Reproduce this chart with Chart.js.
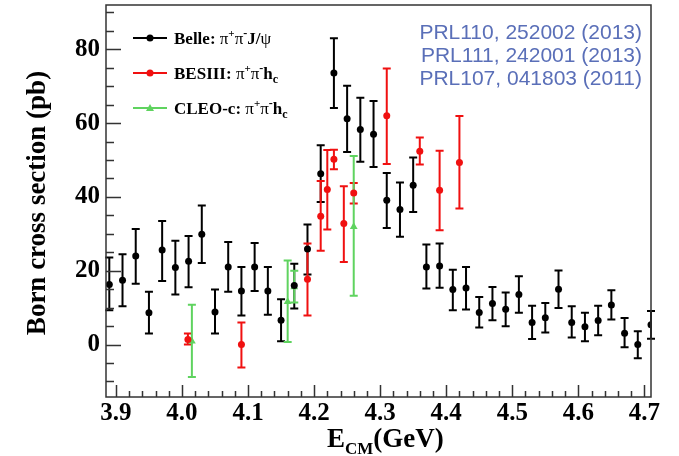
<!DOCTYPE html>
<html>
<head>
<meta charset="utf-8">
<script src="https://cdn.jsdelivr.net/npm/chart.js@4.4.0/dist/chart.umd.min.js"></script>
<style>
  html, body { margin: 0; padding: 0; background: #fff; }
</style>
</head>
<body>
<canvas id="xsChart" width="679" height="456"></canvas>
<script>
// Belle: pi+ pi- J/psi (energy in GeV, cross section and error bar ends in pb)
const belleE  = [3.89, 3.91, 3.93, 3.95, 3.97, 3.99, 4.01, 4.03, 4.05, 4.07, 4.09, 4.11, 4.13, 4.15, 4.17, 4.19, 4.21, 4.23, 4.25, 4.27, 4.29, 4.31, 4.33, 4.35, 4.37, 4.39, 4.41, 4.43, 4.45, 4.47, 4.49, 4.51, 4.53, 4.55, 4.57, 4.59, 4.61, 4.63, 4.65, 4.67, 4.69, 4.71];
const belleXs = [16.3, 17.4, 24.0, 8.6, 25.6, 20.9, 22.6, 29.9, 8.8, 21.0, 14.5, 21.0, 14.5, 6.6, 16.0, 25.9, 46.3, 73.6, 61.2, 58.3, 57.0, 39.1, 36.6, 43.2, 21.0, 21.3, 14.9, 15.3, 8.7, 11.1, 9.6, 13.6, 6.0, 7.3, 15.0, 6.0, 4.8, 6.5, 10.7, 3.1, 0.0, 5.4];
const belleHi = [23.6, 24.5, 31.3, 14.3, 33.5, 28.1, 29.4, 37.7, 14.9, 27.8, 21.0, 27.5, 21.0, 12.3, 21.9, 32.5, 54.0, 83.0, 70.1, 66.9, 66.0, 46.5, 43.9, 50.7, 27.1, 27.4, 20.3, 21.0, 12.9, 15.6, 14.1, 18.5, 10.5, 11.3, 20.1, 10.4, 8.6, 10.5, 14.7, 7.2, 3.6, 9.1];
const belleLo = [9.3, 10.4, 16.5, 3.0, 17.2, 13.6, 15.5, 22.1, 3.0, 14.3, 7.9, 14.5, 8.1, 0.9, 9.8, 19.0, 38.6, 64.1, 52.2, 49.5, 48.1, 31.6, 29.2, 35.9, 15.2, 15.4, 9.3, 9.5, 4.6, 6.6, 5.0, 8.6, 1.5, 3.3, 9.9, 1.9, 0.9, 2.5, 6.8, -0.7, -3.7, 1.6];

// BESIII: pi+ pi- h_c
const besE  = [4.009, 4.09, 4.19, 4.21, 4.22, 4.23, 4.245, 4.26, 4.31, 4.36, 4.39, 4.42];
const besXs = [1.4, 0.0, 17.7, 34.8, 42.0, 50.2, 32.8, 41.1, 62.0, 52.4, 41.8, 49.3];
const besHi = [3.0, 6.0, 27.4, 44.3, 52.7, 52.8, 42.9, 43.8, 74.8, 56.1, 52.5, 61.9];
const besLo = [0.0, -6.2, 7.9, 25.4, 31.2, 47.5, 22.4, 38.2, 48.9, 48.8, 31.0, 36.9];

// CLEO-c: pi+ pi- h_c
const cleoE  = [4.015, 4.16, 4.17, 4.26];
const cleoXs = [0.9, 11.6, 15.6, 31.9];
const cleoHi = [10.8, 22.8, 20.0, 51.1];
const cleoLo = [-8.8, 0.7, 11.4, 13.2];

const xTicks = [3.9, 4.0, 4.1, 4.2, 4.3, 4.4, 4.5, 4.6, 4.7];
const yTicks = [0, 20, 40, 60, 80];
const refLines = ['PRL110, 252002 (2013)', 'PRL111, 242001 (2013)', 'PRL107, 041803 (2011)'];

const BLACK = '#000000';
const RED = '#f01010';
const GREEN = '#5fd35f';
const SERIF = '"Liberation Serif", "Times New Roman", serif';

function points(es, ys) {
    return es.map((e, i) => ({ x: e, y: ys[i] }));
}

// vertical error bars with small caps, drawn under the markers
const errorBars = {
    id: 'errorBars',
    beforeDatasetsDraw(chart) {
        const ctx = chart.ctx;
        const xs = chart.scales.x, ys = chart.scales.y;
        chart.data.datasets.forEach(ds => {
            ctx.save();
            ctx.strokeStyle = ds.borderColor;
            ctx.lineWidth = 2;
            ds.data.forEach((p, i) => {
                const px = xs.getPixelForValue(p.x);
                const top = ys.getPixelForValue(ds.hi[i]);
                const bot = ys.getPixelForValue(ds.lo[i]);
                ctx.beginPath();
                ctx.moveTo(px, top); ctx.lineTo(px, bot);
                ctx.moveTo(px - 4, top); ctx.lineTo(px + 4, top);
                ctx.moveTo(px - 4, bot); ctx.lineTo(px + 4, bot);
                ctx.stroke();
            });
            ctx.restore();
        });
    }
};

// draw a run of text pieces: [text, font, dy]
function drawRich(ctx, x, y, parts) {
    parts.forEach(([t, font, dy]) => {
        ctx.font = font;
        ctx.fillText(t, x, y + dy);
        x += ctx.measureText(t).width;
    });
    return x;
}

// ROOT-like frame, inward ticks, titles, legend and references
const decorations = {
    id: 'decorations',
    afterDraw(chart) {
        const ctx = chart.ctx;
        const a = chart.chartArea;
        const xs = chart.scales.x, ys = chart.scales.y;
        ctx.save();

        // ticks
        ctx.strokeStyle = '#333';
        ctx.lineWidth = 1.5;
        ctx.beginPath();
        for (let k = 195; k <= 235; k++) {
            const v = k * 0.02;
            if (v < xs.min || v > xs.max) continue;
            const px = Math.round(xs.getPixelForValue(v)) + 0.5;
            const len = (k % 5 === 0) ? 12 : 6;
            ctx.moveTo(px, a.bottom); ctx.lineTo(px, a.bottom - len);
        }
        for (let v = -10; v <= 90; v += 5) {
            const py = Math.round(ys.getPixelForValue(v)) + 0.5;
            const len = (v % 20 === 0) ? 15 : 8;
            ctx.moveTo(a.left, py); ctx.lineTo(a.left + len, py);
        }
        ctx.stroke();

        // frame
        ctx.strokeStyle = '#333';
        ctx.lineWidth = 1.5;
        ctx.strokeRect(a.left, a.top, a.right - a.left, a.bottom - a.top);

        // y title
        ctx.fillStyle = '#000';
        ctx.save();
        ctx.translate(38, 203);
        ctx.rotate(-Math.PI / 2);
        ctx.textAlign = 'center';
        ctx.textBaseline = 'middle';
        ctx.font = 'bold 27px ' + SERIF;
        ctx.fillText('Born cross section (pb)', 0, 0);
        ctx.restore();

        // x title with subscript
        ctx.textAlign = 'left';
        ctx.textBaseline = 'alphabetic';
        drawRich(ctx, 327, 447, [
            ['E', 'bold 27px ' + SERIF, 0],
            ['CM', 'bold 17px ' + SERIF, 7],
            ['(GeV)', 'bold 27px ' + SERIF, 0]
        ]);

        // legend
        const rows = [
            { y: 38, color: BLACK, style: 'circle', label: 'Belle: ', tail: [['J/', 'bold 17px ' + SERIF, 0], ['ψ', '17px ' + SERIF, 0]] },
            { y: 73, color: RED, style: 'circle', label: 'BESIII: ', tail: [['h', 'bold 17px ' + SERIF, 0], ['c', 'bold 12px ' + SERIF, 4]] },
            { y: 108, color: GREEN, style: 'triangle', label: 'CLEO-c: ', tail: [['h', 'bold 17px ' + SERIF, 0], ['c', 'bold 12px ' + SERIF, 4]] }
        ];
        rows.forEach(r => {
            ctx.strokeStyle = r.color;
            ctx.fillStyle = r.color;
            ctx.lineWidth = 2;
            ctx.beginPath();
            ctx.moveTo(133, r.y); ctx.lineTo(167, r.y);
            ctx.stroke();
            ctx.beginPath();
            if (r.style === 'circle') {
                ctx.arc(150, r.y, 3.5, 0, Math.PI * 2);
            } else {
                ctx.moveTo(150, r.y - 4); ctx.lineTo(154, r.y + 3); ctx.lineTo(146, r.y + 3); ctx.closePath();
            }
            ctx.fill();
            ctx.fillStyle = '#000';
            drawRich(ctx, 174, r.y + 6, [
                [r.label, 'bold 17px ' + SERIF, 0],
                ['π', '17px ' + SERIF, 0],
                ['+', 'bold 11px ' + SERIF, -7],
                ['π', '17px ' + SERIF, 0],
                ['-', 'bold 12px ' + SERIF, -7]
            ].concat(r.tail));
        });

        // references
        ctx.fillStyle = '#5a6fb8';
        ctx.font = '21px "Liberation Sans", Arial, sans-serif';
        ctx.textAlign = 'right';
        refLines.forEach((t, i) => ctx.fillText(t, 642, 38.5 + i * 23.3));

        ctx.restore();
    }
};

const tickFont = { family: SERIF, weight: 'bold', size: 25 };

const ctx = document.getElementById('xsChart').getContext('2d');
window.xsChart = new Chart(ctx, {
    type: 'scatter',
    data: {
        datasets: [
            {
                label: 'Belle',
                data: points(belleE, belleXs),
                hi: belleHi, lo: belleLo,
                borderColor: BLACK, backgroundColor: BLACK,
                pointStyle: 'circle', pointRadius: 3.5, pointBorderWidth: 0
            },
            {
                label: 'BESIII',
                data: points(besE, besXs),
                hi: besHi, lo: besLo,
                borderColor: RED, backgroundColor: RED,
                pointStyle: 'circle', pointRadius: 3.5, pointBorderWidth: 0
            },
            {
                label: 'CLEO-c',
                data: points(cleoE, cleoXs),
                hi: cleoHi, lo: cleoLo,
                borderColor: GREEN, backgroundColor: GREEN,
                pointStyle: 'triangle', pointRadius: 4.5, pointBorderWidth: 0
            }
        ]
    },
    options: {
        responsive: false,
        animation: false,
        layout: { padding: { left: 0, top: 5, right: 28, bottom: 0 } },
        plugins: { legend: { display: false }, tooltip: { enabled: false } },
        scales: {
            x: {
                type: 'linear', min: 3.885, max: 4.71,
                grid: { display: false, drawTicks: false },
                border: { display: false },
                afterBuildTicks: s => { s.ticks = xTicks.map(v => ({ value: v })); },
                afterFit: s => { s.height = 59; s.paddingLeft = 0; s.paddingRight = 0; },
                ticks: {
                    padding: 2, color: '#000', font: tickFont,
                    maxRotation: 0, autoSkip: false,
                    callback: v => v.toFixed(1)
                }
            },
            y: {
                type: 'linear', min: -14.2, max: 92,
                grid: { display: false, drawTicks: false },
                border: { display: false },
                afterBuildTicks: s => { s.ticks = yTicks.map(v => ({ value: v })); },
                afterFit: s => { s.width = 106; s.paddingTop = 0; s.paddingBottom = 0; },
                ticks: {
                    padding: 6, color: '#000', font: tickFont,
                    callback: v => String(v)
                }
            }
        }
    },
    plugins: [errorBars, decorations]
});
</script>
</body>
</html>
